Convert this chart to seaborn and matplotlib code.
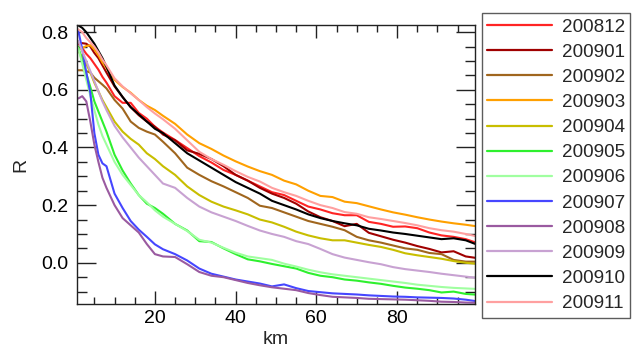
import matplotlib
matplotlib.use("Agg")
import matplotlib.pyplot as plt
import seaborn as sns
import pandas as pd
from matplotlib.ticker import MultipleLocator

km = [1, 2, 3, 4, 5, 6, 7, 8, 10, 12, 14, 16, 18, 20, 22,
      25, 28, 31, 34, 37, 40, 43, 46, 49, 52, 55, 58, 61, 64, 67, 70,
      73, 76, 79, 82, 85, 88, 91, 94, 97, 100]

months = ["200812", "200901", "200902", "200903", "200904", "200905",
          "200906", "200907", "200908", "200909", "200910", "200911"]

r_200812 = [.76, .745, .725, .71, .69, .67, .645, .625, .578, .555, .555, .52, .50, .472, .452,
            .426, .398, .37, .348, .322, .305, .285, .265, .245, .235, .215, .195, .185, .172, .165, .165,
            .142, .135, .125, .126, .12, .105, .095, .09, .082, .068]
r_200901 = [.76, .762, .76, .75, .728, .71, .685, .66, .612, .575, .54, .512, .49, .472, .445,
            .425, .39, .378, .36, .335, .305, .285, .26, .24, .225, .205, .178, .158, .145, .127, .135,
            .104, .092, .08, .07, .058, .048, .036, .04, .022, .016]
r_200902 = [.668, .668, .665, .66, .642, .63, .618, .605, .565, .535, .49, .468, .455, .445, .42,
            .38, .33, .305, .283, .265, .245, .225, .198, .19, .175, .16, .145, .135, .125, .113, .09,
            .078, .07, .06, .05, .045, .034, .03, .01, .004, .004]
r_200903 = [.74, .745, .752, .755, .74, .72, .695, .675, .635, .61, .59, .565, .545, .53, .51,
            .482, .445, .415, .395, .372, .352, .334, .318, .305, .285, .272, .25, .232, .228, .212, .207,
            .196, .185, .175, .167, .158, .15, .143, .137, .132, .126]
r_200904 = [.735, .715, .69, .66, .625, .595, .565, .54, .49, .455, .43, .41, .38, .36, .335,
            .305, .265, .235, .212, .195, .182, .168, .15, .14, .125, .108, .095, .085, .078, .078, .07,
            .062, .055, .045, .033, .026, .02, .014, .006, 0.0, -.004]
r_200905 = [.75, .70, .657, .61, .56, .525, .49, .455, .375, .32, .275, .235, .205, .19, .17,
            .135, .112, .075, .072, .05, .03, .012, .005, -.004, -.012, -.02, -.035, -.045, -.05, -.058, -.062,
            -.068, -.073, -.08, -.086, -.09, -.095, -.103, -.1, -.108, -.111]
r_200906 = [.745, .69, .635, .58, .53, .48, .44, .41, .35, .305, .27, .235, .21, .182, .16,
            .135, .11, .08, .07, .052, .035, .022, .016, .01, -.003, -.013, -.024, -.033, -.04, -.045, -.05,
            -.055, -.06, -.065, -.07, -.076, -.08, -.084, -.087, -.089, -.091]
r_200907 = [.807, .74, .66, .59, .45, .375, .345, .335, .24, .19, .145, .115, .09, .064, .047,
            .03, .008, -.02, -.038, -.048, -.058, -.065, -.072, -.082, -.075, -.088, -.098, -.102, -.106, -.108, -.11,
            -.113, -.115, -.117, -.118, -.12, -.121, -.122, -.124, -.128, -.134]
r_200908 = [.57, .578, .56, .49, .41, .35, .295, .26, .20, .155, .13, .105, .065, .03, .022,
            .02, -.005, -.032, -.045, -.05, -.06, -.07, -.078, -.085, -.09, -.095, -.105, -.112, -.118, -.12, -.122,
            -.125, -.126, -.127, -.128, -.13, -.132, -.135, -.136, -.138, -.139]
r_200909 = [.77, .735, .70, .665, .63, .595, .56, .53, .475, .435, .40, .365, .335, .305, .275,
            .26, .225, .195, .175, .16, .145, .128, .112, .10, .09, .075, .065, .048, .03, .018, .01,
            .002, -.005, -.015, -.022, -.027, -.032, -.038, -.043, -.048, -.053]
r_200910 = [.824, .815, .80, .78, .76, .735, .71, .68, .615, .575, .54, .515, .49, .465, .45,
            .415, .38, .355, .33, .305, .28, .26, .24, .215, .20, .185, .168, .155, .145, .137, .13,
            .118, .112, .105, .10, .094, .088, .082, .085, .078, .062]
r_200911 = [.81, .80, .78, .765, .75, .73, .705, .685, .64, .612, .588, .565, .54, .518, .498,
            .465, .425, .385, .36, .34, .318, .298, .282, .26, .245, .232, .215, .20, .19, .176, .17,
            .158, .152, .145, .138, .13, .12, .113, .108, .10, .091]

series = [r_200812, r_200901, r_200902, r_200903, r_200904, r_200905,
          r_200906, r_200907, r_200908, r_200909, r_200910, r_200911]

colors = ["#ff2424", "#a00000", "#a0661e", "#ffa000", "#c8be00", "#2ef02e",
          "#a0ffa0", "#4646ff", "#9a5aa0", "#c8a2d2", "#000000", "#ffa0a0"]

rows = []
for m, vals in zip(months, series):
    for x, v in zip(km, vals):
        rows.append({"km": x, "R": v, "month": m})
df = pd.DataFrame(rows)

sns.set_theme(style="ticks")
plt.rcParams["font.family"] = ["Liberation Sans", "DejaVu Sans"]

fig = plt.figure(figsize=(6.36, 3.47), dpi=100)
ax = fig.add_axes([77 / 636, 43 / 347, 398 / 636, 279 / 347])

sns.lineplot(data=df, x="km", y="R", hue="month", hue_order=months,
             palette=dict(zip(months, colors)), estimator=None, sort=False,
             linewidth=1.5, ax=ax, legend=True)

handles, labels = ax.get_legend_handles_labels()
ax.get_legend().remove()

ax.set_xlim(0.7, 99.3)
ax.set_ylim(-0.143, 0.825)
ax.xaxis.set_major_locator(MultipleLocator(20))
ax.xaxis.set_minor_locator(MultipleLocator(5))
ax.yaxis.set_major_locator(MultipleLocator(0.2))
ax.yaxis.set_minor_locator(MultipleLocator(0.05))
ax.yaxis.set_major_formatter(matplotlib.ticker.FormatStrFormatter("%.1f"))

ax.tick_params(axis="both", which="both", direction="in", top=True, right=True,
               color="#222222", width=1, labelsize=14, labelcolor="black")
ax.tick_params(axis="x", which="major", length=9.5, pad=4)
ax.tick_params(axis="x", which="minor", length=5.2)
ax.tick_params(axis="y", which="major", length=14, pad=6)
ax.tick_params(axis="y", which="minor", length=7.2)
for s in ax.spines.values():
    s.set_color("#222222")
    s.set_linewidth(1)

ax.set_xlabel("km", fontsize=14, labelpad=3)
ax.set_ylabel("R", fontsize=14, labelpad=9)

leg = fig.legend(handles, labels, loc="upper left", bbox_to_anchor=(482 / 636, 1 - 13 / 347),
                 fontsize=13.6, frameon=True, fancybox=False, handlelength=3.45,
                 handletextpad=0.5, labelspacing=0.42, borderpad=0.28, borderaxespad=0)
leg.get_frame().set_edgecolor("#333333")
leg.get_frame().set_linewidth(1)
for line in leg.get_lines():
    line.set_linewidth(1.6)

fig.savefig("out.png", dpi=100)
